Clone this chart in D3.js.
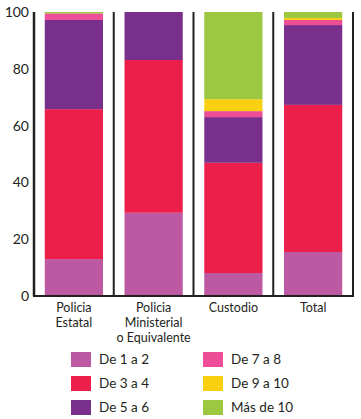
<!DOCTYPE html>
<html><head><meta charset="utf-8">
<script src="https://cdn.jsdelivr.net/npm/d3@7"></script>
<style>body{margin:0;background:#fff}svg{display:block}text{font-family:"Lato","Open Sans",sans-serif;fill:#231f20}</style>
</head><body><svg id="c" width="361" height="419"></svg>
<script>
const categories = ["Policia Estatal", "Policia Ministerial o Equivalente", "Custodio", "Total"];
const categoryLines = [["Policia","Estatal"],["Policia","Ministerial","o Equivalente"],["Custodio"],["Total"]];
const seriesNames = ["De 1 a 2","De 3 a 4","De 5 a 6","De 7 a 8","De 9 a 10","Más de 10"];
const seriesColors = ["#bd59a2","#ec1f4b","#792f8c","#ee4d97","#f9d00f","#9bc840"];
const de1a2   = [13.0, 29.3, 8.1, 15.5];
const de3a4   = [52.8, 53.8, 38.8, 51.8];
const de5a6   = [31.4, 16.9, 16.1, 28.1];
const de7a8   = [2.3, 0, 2.1, 1.8];
const de9a10  = [0, 0, 4.2, 0.7];
const mas10   = [0.5, 0, 30.7, 2.1];
const yTicks = [0,20,40,60,80,100];

const seriesVals = [de1a2,de3a4,de5a6,de7a8,de9a10,mas10];
const rows = categories.map((c,i)=>{const o={cat:c}; seriesNames.forEach((s,j)=>o[s]=seriesVals[j][i]); return o;});
const stack = d3.stack().keys(seriesNames)(rows);

const svg = d3.select("#c");
const L=34, R=353, T=12, B=296;
const x = d3.scaleBand().domain(categories).range([L,R]).paddingInner(0.27).paddingOuter(0.135);
const y = d3.scaleLinear().domain([0,100]).range([B,T]);

svg.append("g").selectAll("g").data(stack).join("g")
  .attr("fill",(d,i)=>seriesColors[i])
  .selectAll("rect").data(d=>d).join("rect")
  .attr("x",d=>x(d.data.cat)).attr("width",x.bandwidth())
  .attr("y",d=>y(d[1])).attr("height",d=>Math.max(0,y(d[0])-y(d[1])));

// separators
const step = x.step();
const seps = d3.range(0,5).map(i=>L+i*step);
svg.append("g").selectAll("line").data(seps).join("line")
  .attr("x1",d=>d).attr("x2",d=>d).attr("y1",T).attr("y2",B)
  .attr("stroke","#231f20").attr("stroke-width",(d,i)=>i===0?2.5:2);
svg.append("line").attr("x1",L-1).attr("x2",R+1).attr("y1",B).attr("y2",B)
  .attr("stroke","#231f20").attr("stroke-width",2);

// y axis labels
const ya = svg.append("g").attr("transform",`translate(${L},0)`)
  .call(d3.axisLeft(y).tickValues(yTicks).tickSize(0).tickPadding(5));
ya.select(".domain").remove();
ya.selectAll("text").style("font-size","14px").style("font-family","Lato, sans-serif").attr("fill","#231f20");

// x labels
const xl = svg.append("g");
categories.forEach((c,i)=>{
  const t = xl.append("text").attr("text-anchor","middle").attr("x",x(c)+x.bandwidth()/2).style("font-size","12.5px");
  categoryLines[i].forEach((ln,k)=>t.append("tspan").attr("x",x(c)+x.bandwidth()/2).attr("y",312+k*15).text(ln));
});

// legend
const lg = svg.append("g");
seriesNames.forEach((s,i)=>{
  const col = Math.floor(i/3), row = i%3;
  const gx = col===0?71:203, gy = 352+row*24;
  lg.append("rect").attr("x",gx).attr("y",gy).attr("width",20).attr("height",15).attr("fill",seriesColors[i]);
  lg.append("text").attr("x",gx+28).attr("y",gy+12).style("font-size","13.5px").text(s);
});
</script></body></html>
